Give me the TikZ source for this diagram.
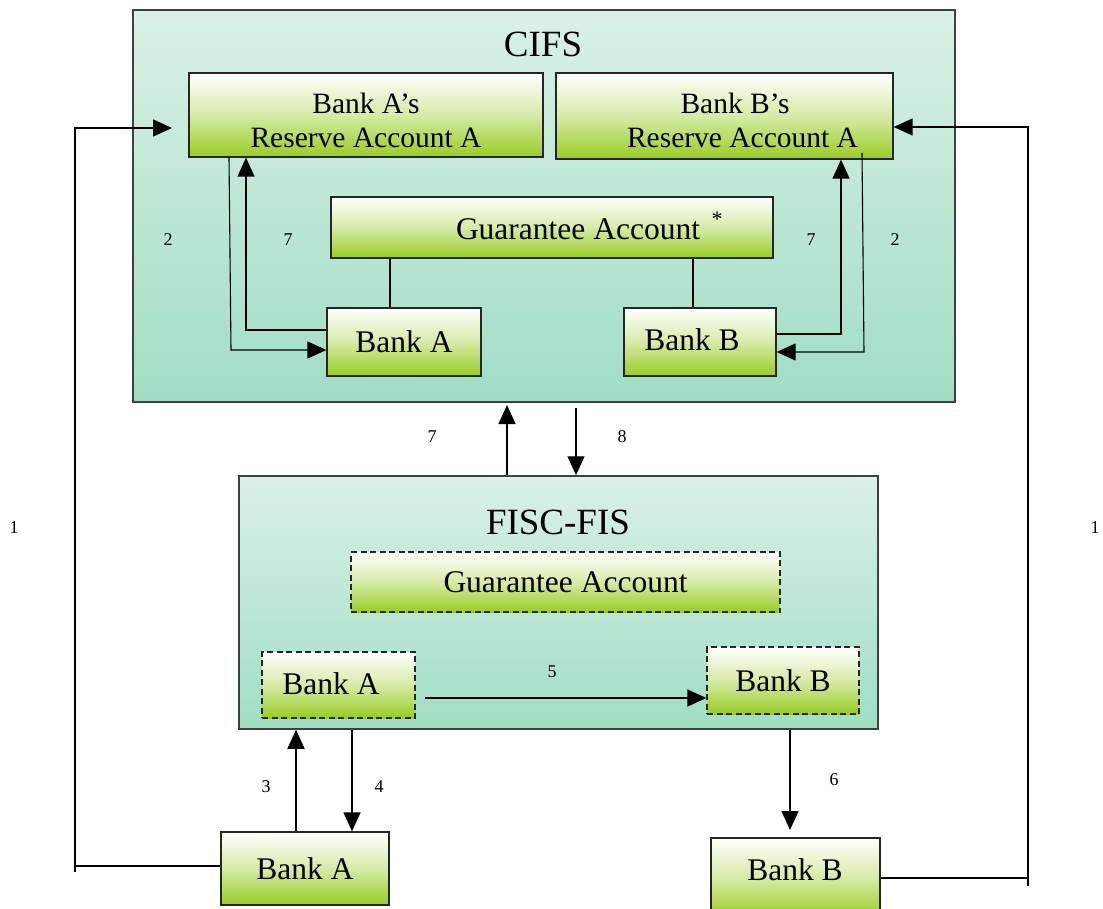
\documentclass[tikz,border=0pt]{standalone}
\usepackage{fontspec}
\setmainfont{Liberation Serif}
\usetikzlibrary{arrows.meta}
\definecolor{bgtop}{RGB}{218,241,230}
\definecolor{bgbot}{RGB}{160,221,196}
\definecolor{grbot}{RGB}{153,204,34}
\tikzset{
  bigbox/.style={draw=black!75, line width=1.5pt, top color=bgtop, bottom color=bgbot, inner sep=0pt},
  gbox/.style={draw=black!85, line width=1.3pt, top color=white, bottom color=grbot, inner sep=0pt, middle color=white!60!grbot},
  dbox/.style={gbox, dashed, dash pattern=on 6pt off 3.5pt},
  arr/.style={line width=1.4pt, -{Triangle[length=19pt,width=17pt]}},
  thinarr/.style={line width=1.1pt, -{Triangle[length=19pt,width=17pt]}},
  plain/.style={line width=1.3pt},
  num/.style={font=\fontsize{18}{20}\selectfont},
  big/.style={font=\fontsize{31.5}{34}\selectfont},
  title/.style={font=\fontsize{37}{40}\selectfont}
}
\begin{document}
\begin{tikzpicture}[x=1pt,y=-1pt]
\useasboundingbox[fill=white] (0,0) rectangle (1103,909);
% containers
\node[bigbox, minimum width=822pt, minimum height=392pt] (cifs) at (544,206) {};
\node[title] (cifst) at (543,44) {CIFS};
\node[bigbox, minimum width=639pt, minimum height=253pt] (fisc) at (558.5,602.5) {};
\node[title] (fisct) at (558,522) {FISC-FIS};
% CIFS inner boxes
\node[gbox, minimum width=354pt, minimum height=84pt] (ra) at (366,115) {};
\node[align=center, font=\fontsize{29.5}{34}\selectfont] (rat) at (366,120) {Bank A’s\\Reserve Account A};
\node[gbox, minimum width=337pt, minimum height=86pt] (rb) at (724.5,116) {};
\node[align=center, font=\fontsize{29.5}{34}\selectfont] (rbt) at (735,120) {Bank B’s\\\hspace*{15pt}Reserve Account A};
\node[gbox, minimum width=442pt, minimum height=61pt] (cg) at (552,227.5) {};
\node[big] (cgt) at (578,229) {Guarantee Account};
\node[font=\fontsize{22}{24}\selectfont] (cgs) at (717,219) {*};
\node[gbox, big, minimum width=154pt, minimum height=68pt] (ba) at (404,342) {Bank A};
\node[gbox, minimum width=152pt, minimum height=68pt] (bb) at (700,342) {};
\node[big] (bbt) at (692,340) {Bank B};
% FISC inner boxes
\node[dbox, big, minimum width=429pt, minimum height=60pt] (fg) at (565.5,582) {Guarantee Account};
\node[dbox, minimum width=153pt, minimum height=66pt] (fa) at (338.5,685) {};
\node[big] (fat) at (331,684) {Bank A};
\node[dbox, big, minimum width=152pt, minimum height=67pt] (fb) at (783,680.5) {Bank B};
% lower banks
\node[gbox, big, minimum width=168pt, minimum height=73pt] (lba) at (305,868.5) {Bank A};
\node[gbox, minimum width=169pt, minimum height=80pt] (lbb) at (795.5,878) {};
\node[big] (lbbt) at (795,870) {Bank B};
% guarantee links
\coordinate (g1) at (390,280);
\coordinate (g2) at (693,280);
\draw[plain] (g1 |- cg.south) -- (g1 |- ba.north);
\draw[plain] (g2 |- cg.south) -- (g2 |- bb.north);
% left 2 and 7
\coordinate (a2s) at (229,157);
\coordinate (a2c) at (231,350);
\draw[thinarr] (a2s) -- (a2c) -- (a2c -| ba.west);
\coordinate (a7c) at (246,330);
\draw[arr] (a7c -| ba.west) -- (a7c) -- (a7c |- ra.south);
\node[num] (n2l) at (168,240) {2};
\node[num] (n7l) at (288,240) {7};
% right 7 and 2
\coordinate (b7c) at (841,334);
\draw[arr] (b7c -| bb.east) -- (b7c) -- (b7c |- rb.south);
\coordinate (b2s) at (862,153);
\coordinate (b2c) at (864,352);
\draw[thinarr] (b2s) -- (b2c) -- (b2c -| bb.east);
\node[num] (n7r) at (811,240) {7};
\node[num] (n2r) at (895,240) {2};
% arrows 1
\coordinate (l1b) at (75,866);
\coordinate (l1t) at (75,128);
\coordinate (l1e) at (172,128);
\draw[plain] (l1b) -- (75,872);
\draw[arr] (l1b -| lba.west) -- (l1b) -- (l1t) -- (l1e);
\node[num] (n1l) at (14,528) {1};
\coordinate (r1b) at (1028,878);
\coordinate (r1t) at (1028,127);
\draw[plain] (r1b) -- (1028,886);
\draw[arr] (r1b -| lbb.east) -- (r1b) -- (r1t) -- (r1t -| rb.east);
\node[num] (n1r) at (1095,528) {1};
% 7 and 8 between CIFS and FISC
\coordinate (c7) at (507,405);
\draw[arr] (c7 |- fisc.north) -- (c7);
\coordinate (c8) at (576,408);
\draw[arr] (c8) -- (c8 |- fisc.north);
\node[num] (n7m) at (432,437) {7};
\node[num] (n8m) at (622,437) {8};
% arrow 5
\coordinate (c5) at (425,698);
\draw[arr] (c5) -- (c5 -| fb.west);
\node[num] (n5) at (552,672) {5};
% 3, 4, 6
\coordinate (c3) at (296,780);
\draw[arr] (c3 |- lba.north) -- (c3 |- fisc.south);
\coordinate (c4) at (352,780);
\draw[arr] (c4 |- fisc.south) -- (c4 |- lba.north);
\coordinate (c6) at (790,830);
\draw[arr] (c6 |- fisc.south) -- (c6);
\node[num] (n3) at (266,787) {3};
\node[num] (n4) at (379,787) {4};
\node[num] (n6) at (834,780) {6};
\end{tikzpicture}
\end{document}
